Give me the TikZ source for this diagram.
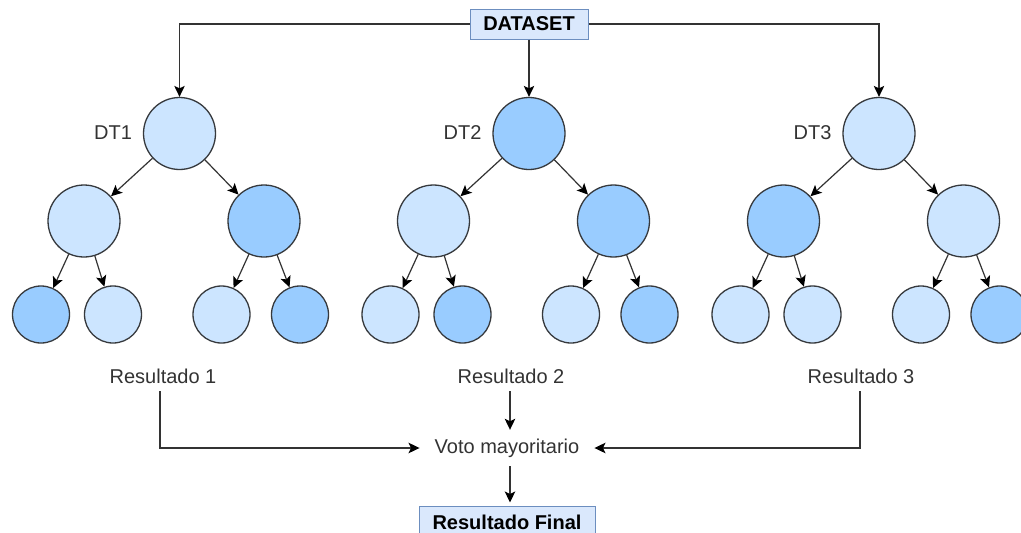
\documentclass[tikz,border=0pt]{standalone}
\usepackage{fontspec}
\setmainfont{Liberation Sans}
\usetikzlibrary{arrows.meta}
\definecolor{lite}{HTML}{CCE5FF}
\definecolor{dark}{HTML}{99CCFF}
\definecolor{rim}{HTML}{36393D}
\definecolor{boxfill}{HTML}{DAE8FC}
\definecolor{boxrim}{HTML}{6C8EBF}
\definecolor{wire}{HTML}{333333}
\definecolor{txt}{HTML}{333333}
\tikzset{
  bignode/.style={circle, draw=rim, fill=#1, line width=1.3pt, minimum size=72pt, inner sep=0pt},
  leafnode/.style={circle, draw=rim, fill=#1, line width=1.3pt, minimum size=57pt, inner sep=0pt},
  arr/.style={draw=wire, line width=1.2pt, -{Stealth[length=11pt,width=10.5pt,inset=2.5pt,color=black]}},
  lbl/.style={text=txt, font=\fontsize{20pt}{24pt}\selectfont, inner sep=0pt},
  header/.style={draw=boxrim, fill=boxfill, line width=1pt, font=\fontsize{20pt}{24pt}\selectfont\bfseries, text=black, inner sep=0pt},
}
\begin{document}
\begin{tikzpicture}[x=1pt,y=-1pt]
\useasboundingbox (0,0) rectangle (1021,533);
\clip (0,0) rectangle (1021,533);
\fill[white] (0,0) rectangle (1021,533);

% source box
\node[header, minimum width=118pt, minimum height=30pt] (ds) at (529,24) {DATASET};

% three decision trees
\foreach \t/\dx/\ca/\cb/\cc/\cd/\ce/\cf/\cg in {
  1/0/lite/lite/dark/dark/lite/lite/dark,
  2/349.5/dark/lite/dark/lite/dark/lite/dark,
  3/699.5/lite/dark/lite/lite/lite/lite/dark}{
  \node[bignode=\ca] (r\t) at (179.5+\dx,133.5) {};
  \node[lbl, anchor=center] (dt\t) at (113+\dx,133) {DT\t};
  \node[bignode=\cb] (l\t) at (84+\dx,221) {};
  \node[bignode=\cc] (m\t) at (264+\dx,221) {};
  \node[leafnode=\cd] (a\t) at (41+\dx,314.5) {};
  \node[leafnode=\ce] (b\t) at (113+\dx,314.5) {};
  \node[leafnode=\cf] (c\t) at (221.5+\dx,314.5) {};
  \node[leafnode=\cg] (d\t) at (300+\dx,314.5) {};
  \draw[arr] (r\t) -- (l\t);
  \draw[arr] (r\t) -- (m\t);
  \draw[arr] (l\t) -- (a\t);
  \draw[arr] (l\t) -- (b\t);
  \draw[arr] (m\t) -- (c\t);
  \draw[arr] (m\t) -- (d\t);
}

% dataset feeding each tree
\draw[arr] (ds.west) -| (r1);
\draw[arr] (ds) -- (r2);
\draw[arr] (ds.east) -| (r3);

% per-tree results
\node[lbl, minimum height=30pt] (res1) at (163,376) {Resultado 1};
\node[lbl, minimum height=30pt] (res2) at (511,376) {Resultado 2};
\node[lbl, minimum height=30pt] (res3) at (861,376) {Resultado 3};

% voting stage
\node[lbl, minimum height=36pt, inner xsep=15pt] (vote) at (507,448) {Voto mayoritario};
\node[header, minimum width=176pt, minimum height=32pt] (final) at (507,522) {Resultado Final};

\draw[arr] ([xshift=-3pt]res1.south) |- (vote.west);
\draw[arr] ([xshift=-1pt]res3.south) |- (vote.east);
\draw[arr] ([xshift=-1pt]res2.south) -- ([xshift=-1pt]res2.south |- vote.north);
\draw[arr, shorten >=3pt] ([xshift=-1pt]res2.south |- vote.south) -- ([xshift=-1pt]res2.south |- final.north);
\end{tikzpicture}
\end{document}
